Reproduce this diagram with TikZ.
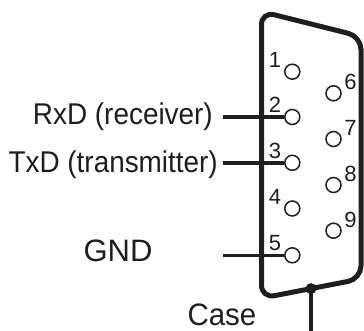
\documentclass[tikz,border=0pt]{standalone}
\usepackage{fontspec}
\usepackage{graphicx}
\setmainfont{Liberation Sans}
\definecolor{ink}{HTML}{1E1E1E}
\begin{document}
\begin{tikzpicture}[x=1pt,y=-1pt,
  pin/.style={circle,draw=ink,line width=1.5pt,minimum size=15pt,inner sep=0pt},
  num/.style={text=ink,inner sep=0pt,font=\fontsize{22}{22}\selectfont},
  lbl/.style={text=ink,inner sep=0pt},
  outline/.style={draw=ink,line width=5pt,rounded corners=13pt},
  wire/.style={draw=ink,line width=3.6pt},
  dotnode/.style={circle,fill=ink,minimum size=11pt,inner sep=0pt}]
\useasboundingbox (0,0) rectangle (364,331);
% housing
\draw[outline] (261.5,11.6) -- (361,36.5) -- (361,278.9) -- (261.5,298.2) -- cycle;
% pins
\foreach \i/\y in {1/71.7,2/117,3/162.8,4/208.5,5/255.3}{
  \node[pin] (p\i) at (292.3,\y) {};
  \node[num] at (275,\y-12) {\i};
}
\foreach \i/\y in {6/93.3,7/139,8/185,9/230.7}{
  \node[pin] (p\i) at (333.5,\y) {};
  \node[num] at (350.5,\y-11) {\i};
}
% labels
\node[lbl,anchor=base east] (rxd) at (213,125) {\fontsize{30}{30}\selectfont\scalebox{0.93}[1]{RxD (receiver)}};
\node[lbl,anchor=base east] (txd) at (218,172.3) {\fontsize{30}{30}\selectfont\scalebox{0.93}[1]{TxD (transmitter)}};
\node[lbl,anchor=base west] (gnd) at (83.3,261) {\fontsize{31}{31}\selectfont GND};
\node[lbl,anchor=base west] (case) at (187.3,325.5) {\fontsize{31}{31}\selectfont\scalebox{0.95}[1]{Case}};
% wires
\coordinate (w2) at (223,117);
\coordinate (w3) at (223,162.8);
\coordinate (w5) at (223,255.3);
\draw[wire] (w2) -- (p2.west);
\draw[wire] (w3) -- (p3.west);
\draw[wire] (w5) -- (p5.west);
% case ground
\node[dotnode] (dot) at (311,288.6) {};
\coordinate (caseend) at (311,331);
\draw[wire] (dot.center) -- (caseend);
\end{tikzpicture}
\end{document}
